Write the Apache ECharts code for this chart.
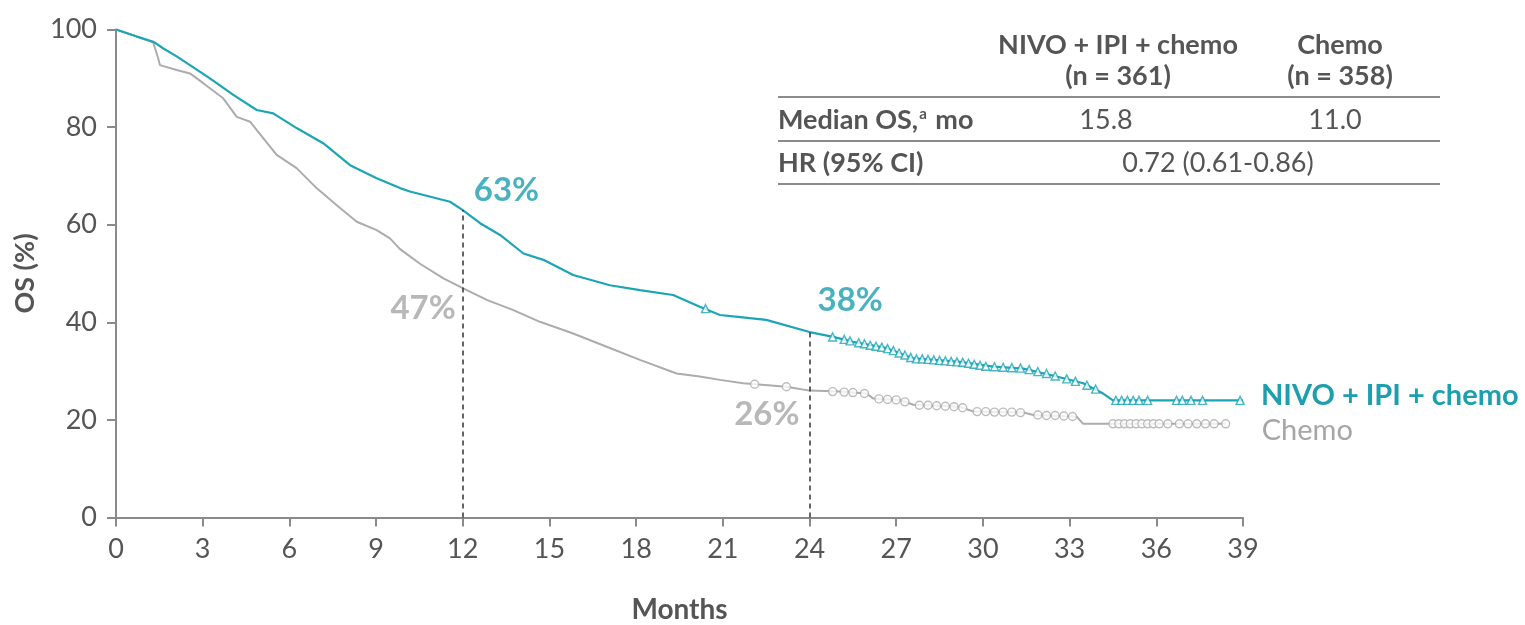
<!DOCTYPE html>
<html>
<head>
<meta charset="utf-8">
<title>Overall survival</title>
<script src="https://cdn.jsdelivr.net/npm/echarts@6/dist/echarts.min.js"></script>
<style>
  html, body { margin: 0; padding: 0; background: #ffffff; }
  #chart { width: 1525px; height: 625px; }
</style>
</head>
<body>
<div id="chart"></div>
<script>
// Kaplan-Meier overall survival, [month, OS %]
const nivoCurve = [
  [0, 100], [0.7, 98.6], [1.29, 97.5], [1.64, 96.1], [2.1, 94.5], [2.56, 92.7],
  [3.25, 90.0], [4.06, 86.6], [4.87, 83.5], [5.44, 82.8], [6.25, 79.8], [7.17, 76.7],
  [8.1, 72.2], [9.02, 69.5], [9.83, 67.5], [10.17, 66.8], [11.56, 64.7], [12, 63],
  [12.6, 60.3], [13.29, 57.9], [14.1, 54.1], [14.79, 52.8], [15.82, 49.7], [17.09, 47.6],
  [18.13, 46.6], [19.28, 45.6], [20.2, 43.2], [20.9, 41.5], [21.36, 41.2], [22.5, 40.5],
  [24, 38], [24.82, 37.0], [25.5, 36.0], [26.67, 34.7], [27.59, 32.6], [29.2, 31.9],
  [30.36, 30.9], [31.4, 30.5], [32.55, 28.9], [33.47, 27.5], [34.16, 25.4], [34.5, 24],
  [39, 24]
];
const chemoCurve = [
  [0, 100], [0.7, 98.6], [1.29, 97.3], [1.46, 94.1], [1.52, 92.7], [2.1, 91.7],
  [2.56, 91.0], [3.02, 89.0], [3.71, 85.9], [4.18, 82.1], [4.64, 81.1], [5.1, 77.7],
  [5.56, 74.3], [6.25, 71.6], [6.94, 67.5], [7.64, 64.0], [8.33, 60.6], [9.02, 58.9],
  [9.48, 57.2], [9.83, 55.0], [10.52, 52.0], [11.33, 49.0], [12, 47], [12.83, 44.6],
  [13.75, 42.5], [14.67, 40.1], [15.82, 37.7], [16.98, 35.0], [18.13, 32.3], [19.4, 29.5],
  [20.2, 28.9], [20.9, 28.2], [21.7, 27.5], [23.2, 26.8], [24, 26], [25.05, 25.8],
  [25.97, 25.4], [26.2, 24.4], [27.13, 24.1], [27.59, 23.1], [29.2, 22.7], [29.67, 21.7],
  [31.4, 21.5], [31.75, 21.0], [33.24, 20.7], [33.47, 19.2], [38.4, 19.2]
];
// Censored observations
const nivoCensored = [
  [20.4, 42.8], [24.8, 37.0], [25.2, 36.5], [25.4, 36.2], [25.7, 35.8], [25.9, 35.6],
  [26.1, 35.3], [26.3, 35.1], [26.5, 34.9], [26.7, 34.6], [26.9, 34.2], [27.1, 33.7],
  [27.3, 33.3], [27.5, 32.8], [27.7, 32.5], [27.9, 32.5], [28.1, 32.4], [28.3, 32.3],
  [28.5, 32.2], [28.7, 32.1], [28.9, 32.0], [29.1, 31.9], [29.3, 31.8], [29.5, 31.6],
  [29.7, 31.4], [29.9, 31.2], [30.1, 31.0], [30.4, 30.9], [30.7, 30.8], [31.0, 30.7],
  [31.3, 30.6], [31.6, 30.3], [31.9, 29.9], [32.2, 29.5], [32.5, 29.0], [32.9, 28.4],
  [33.2, 27.9], [33.6, 27.1], [33.9, 26.3], [34.6, 24], [34.8, 24], [35.0, 24],
  [35.2, 24], [35.4, 24], [35.7, 24], [36.7, 24], [36.9, 24], [37.2, 24], [37.6, 24],
  [38.9, 24]
];
const chemoCensored = [
  [22.1, 27.3], [23.2, 26.8], [24.8, 25.8], [25.2, 25.7], [25.5, 25.6], [25.9, 25.4],
  [26.4, 24.3], [26.7, 24.2], [27.0, 24.1], [27.3, 23.7], [27.8, 23.0], [28.1, 23.0],
  [28.4, 22.9], [28.7, 22.8], [29.0, 22.7], [29.3, 22.5], [29.8, 21.7], [30.1, 21.7],
  [30.4, 21.6], [30.7, 21.6], [31.0, 21.6], [31.3, 21.5], [31.9, 21.0], [32.2, 20.9],
  [32.5, 20.9], [32.8, 20.8], [33.1, 20.7], [34.5, 19.2], [34.7, 19.2], [34.9, 19.2],
  [35.1, 19.2], [35.3, 19.2], [35.5, 19.2], [35.7, 19.2], [35.9, 19.2], [36.1, 19.2],
  [36.4, 19.2], [36.8, 19.2], [37.1, 19.2], [37.4, 19.2], [37.7, 19.2], [38.0, 19.2],
  [38.4, 19.2]
];
// Landmark survival rates
const landmarkMonths = [12, 24];
const nivoLandmarks = [63, 38];
const chemoLandmarks = [47, 26];

// Summary table
const armNames = ['NIVO + IPI + chemo', 'Chemo'];
const armSizes = [361, 358];
const medianOS = ['15.8', '11.0'];
const hazardRatio = '0.72 (0.61-0.86)';

const TEAL = '#1ca5b5';
const TEAL_TEXT = '#1d9fae';
const GREY = '#acacac';
const GREY_TEXT = '#a6a6a6';
const AXIS = '#8a8a8a';
const INK = '#555555';
const FONT = 'Lato, "Open Sans", sans-serif';

const chart = echarts.init(document.getElementById('chart'));

const nivoLabelOffsets = [[6, -20], [3, -32]];
const chemoLabelOffsets = [[-2, 20], [-5, 24]];

const tableLeft = 778, tableRight = 1440;
const colNivo = 1118, colChemo = 1340;

function ruleLine(y) {
  return { type: 'line', shape: { x1: tableLeft, y1: y, x2: tableRight, y2: y },
           style: { stroke: '#666', lineWidth: 1.5 }, silent: true };
}
function txt(x, y, text, align, weight, color, rich) {
  return { type: 'text', x: x, y: y,
           style: { text: text, fill: color || INK, font: (weight || 'normal') + ' 27px ' + FONT,
                    align: align, verticalAlign: 'middle', rich: rich } };
}

const option = {
  animation: false,
  backgroundColor: '#ffffff',
  grid: { left: 116, right: 282, top: 29.5, bottom: 107.5, containLabel: false, outerBoundsMode: 'none' },
  xAxis: {
    type: 'value', min: 0, max: 39, interval: 3,
    name: 'Months', nameLocation: 'middle', nameGap: 78,
    nameTextStyle: { fontFamily: FONT, fontSize: 28, fontWeight: 'bold', color: INK },
    axisLine: { show: true, lineStyle: { color: AXIS, width: 2 } },
    axisTick: { show: true, length: 9, lineStyle: { color: AXIS, width: 2 } },
    axisLabel: { fontFamily: FONT, fontSize: 27, color: INK, margin: 18 },
    splitLine: { show: false }
  },
  yAxis: {
    type: 'value', min: 0, max: 100, interval: 20,
    name: 'OS (%)', nameLocation: 'middle', nameGap: 76, nameRotate: 90,
    nameTextStyle: { fontFamily: FONT, fontSize: 27, fontWeight: 'bold', color: INK },
    axisLine: { show: true, lineStyle: { color: AXIS, width: 2 } },
    axisTick: { show: true, length: 9, lineStyle: { color: AXIS, width: 2 } },
    axisLabel: { fontFamily: FONT, fontSize: 27, color: INK, margin: 19 },
    splitLine: { show: false }
  },
  series: [
    {
      name: armNames[1], type: 'line', data: chemoCurve, showSymbol: false, z: 3,
      lineStyle: { color: GREY, width: 2 },
      endLabel: { show: true, formatter: armNames[1], color: GREY_TEXT, fontFamily: FONT,
                  fontSize: 29, distance: 36, offset: [0, 7] }
    },
    {
      name: armNames[0], type: 'line', data: nivoCurve, showSymbol: false, z: 4,
      lineStyle: { color: TEAL, width: 2.2 },
      endLabel: { show: true, formatter: armNames[0], color: TEAL_TEXT, fontFamily: FONT,
                  fontSize: 29, fontWeight: 'bold', distance: 18, offset: [0, -5] },
      markLine: {
        silent: true, symbol: ['none', 'none'], label: { show: false },
        lineStyle: { color: '#333333', width: 1.5, type: [5, 4] },
        data: landmarkMonths.map((m, i) => [{ coord: [m, 0] }, { coord: [m, nivoLandmarks[i]] }])
      }
    },
    {
      name: 'chemo censored', type: 'scatter', data: chemoCensored, z: 5,
      symbol: 'circle', symbolSize: 8,
      itemStyle: { color: '#ffffff', borderColor: GREY, borderWidth: 1.4 }
    },
    {
      name: 'nivo censored', type: 'scatter', data: nivoCensored, z: 6,
      symbol: 'triangle', symbolSize: 8,
      itemStyle: { color: '#ffffff', borderColor: TEAL, borderWidth: 1.4 }
    },
    {
      name: 'nivo landmarks', type: 'scatter', symbolSize: 0, z: 7, silent: true,
      data: landmarkMonths.map((m, i) => ({
        value: [m, nivoLandmarks[i]],
        label: { offset: nivoLabelOffsets[i] }
      })),
      label: { show: true, position: 'right', distance: 5, formatter: p => p.value[1] + '%',
               fontFamily: FONT, fontSize: 33, fontWeight: 'bold', color: TEAL_TEXT }
    },
    {
      name: 'chemo landmarks', type: 'scatter', symbolSize: 0, z: 7, silent: true,
      data: landmarkMonths.map((m, i) => ({
        value: [m, chemoLandmarks[i]],
        label: { offset: chemoLabelOffsets[i] }
      })),
      label: { show: true, position: 'left', distance: 5, formatter: p => p.value[1] + '%',
               fontFamily: FONT, fontSize: 33, fontWeight: 'bold', color: GREY_TEXT }
    }
  ],
  graphic: [
    txt(colNivo, 45, armNames[0], 'center', 'bold'),
    txt(colNivo, 76, '(n = ' + armSizes[0] + ')', 'center', 'bold'),
    txt(colChemo, 45, armNames[1], 'center', 'bold'),
    txt(colChemo, 76, '(n = ' + armSizes[1] + ')', 'center', 'bold'),
    ruleLine(97),
    txt(tableLeft, 120, 'Median OS,{sup|a} mo', 'left', 'bold', INK,
        { sup: { fontSize: 15, fontWeight: 'bold', fontFamily: FONT, fill: INK, verticalAlign: 'top', padding: [0, 2, 12, 1] } }),
    txt(colNivo - 12, 120, medianOS[0], 'center', 'normal'),
    txt(colChemo - 5, 120, medianOS[1], 'center', 'normal'),
    ruleLine(141),
    txt(tableLeft, 163, 'HR (95% CI)', 'left', 'bold'),
    txt(1218, 163, hazardRatio, 'center', 'normal'),
    ruleLine(184)
  ]
};

chart.setOption(option);
</script>
</body>
</html>
